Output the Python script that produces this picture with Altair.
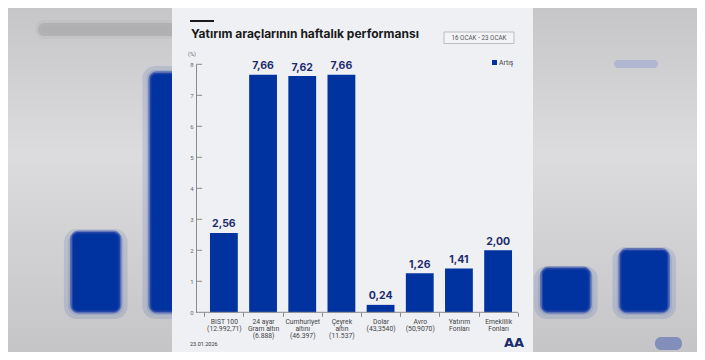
import altair as alt
import pandas as pd

categories = ["BIST 100|(12.992,71)", "24 ayar|Gram altın|(6.888)", "Cumhuriyet|altını|(46.397)",
              "Çeyrek|altın|(11.537)", "Dolar|(43,3540)", "Avro|(50,9070)",
              "Yatırım|Fonları", "Emeklilik|Fonları"]
values = [2.56, 7.66, 7.62, 7.66, 0.24, 1.26, 1.41, 2.00]
value_labels = ["2,56", "7,66", "7,62", "7,66", "0,24", "1,26", "1,41", "2,00"]
y_ticks = [1, 2, 3, 4, 5, 6, 7, 8]

title_text = "Yatırım araçlarının haftalık performansı"
date_text = "16 OCAK - 23 OCAK"
unit_text = "(%)"
legend_text = "Artış"
footer_text = "23.01.2026"

BLUE = "#0033a0"
NAVY = "#1c2c6c"

df = pd.DataFrame({"cat": categories, "val": values, "lab": value_labels})
ticks_df = pd.DataFrame({"v": y_ticks})
one = pd.DataFrame({"a": [0]})

W, H = 689, 344


def txt(text, x, y, **kw):
    return alt.Chart(pd.DataFrame({"t": [text]})).mark_text(**kw).encode(
        x=alt.value(x), y=alt.value(y), text="t:N")


def blob(x1, x2, y1, y2, **kw):
    return alt.Chart(one).mark_rect(**kw).encode(
        x=alt.value(x1), x2=alt.value(x2), y=alt.value(y1), y2=alt.value(y2))


# ---- gradient grey backdrop ----
backdrop = alt.Chart(one).mark_rect(
    color=alt.Gradient(gradient="linear", x1=0, x2=0, y1=0, y2=1,
                       stops=[alt.GradientStop(offset=0, color="#c6c6c8"),
                              alt.GradientStop(offset=0.42, color="#dcdcde"),
                              alt.GradientStop(offset=0.75, color="#cfcfd1"),
                              alt.GradientStop(offset=1, color="#c5c5c7")])
).encode(x=alt.value(0), x2=alt.value(W), y=alt.value(0), y2=alt.value(H))

# ---- blurred, enlarged background copy ----
bg_x = alt.X("cat:N", sort=None, axis=None,
             scale=alt.Scale(range=[48.6, 675.4], paddingInner=0, paddingOuter=0))
bg_y = alt.Y("val:Q", axis=None, scale=alt.Scale(domain=[0, 8], range=[307, 51]))
bg_halo = alt.Chart(df).mark_bar(
    width=alt.RelativeBandSize(0.71), color="#5068b4", opacity=0.18, cornerRadius=9,
    stroke="#5068b4", strokeWidth=8, strokeOpacity=0.18
).encode(x=bg_x, y=bg_y)
bg_bars = alt.Chart(df).mark_bar(
    width=alt.RelativeBandSize(0.62), color=BLUE, cornerRadius=7,
    stroke="#2a48a8", strokeWidth=3, strokeOpacity=0.6
).encode(x=bg_x, y=alt.Y("val:Q", axis=None, scale=alt.Scale(domain=[0, 8], range=[304, 54])))

bg_title = blob(30, 170, 15, 28, color="#9c9c9e", opacity=0.55, cornerRadius=6,
                stroke="#a8a8aa", strokeWidth=6, strokeOpacity=0.3)
bg_legend = blob(606, 650, 52, 60, color="#8c9ad0", opacity=0.45, cornerRadius=4)
bg_logo = blob(647, 674, 329, 342, color="#4a62b0", opacity=0.55, cornerRadius=6)

# ---- panel ----
panel = alt.Chart(one).mark_rect(color="#eff0f4").encode(
    x=alt.value(164), x2=alt.value(525), y=alt.value(0), y2=alt.value(H))

# ---- main chart ----
x_scale = alt.Scale(range=[196.3, 509.7], paddingInner=0, paddingOuter=0)
y_scale = alt.Scale(domain=[0, 8], range=[304.3, 56.3], nice=False)

x_enc = alt.X("cat:N", sort=None, scale=x_scale, title=None,
              axis=alt.Axis(orient="bottom", offset=-39.7, domain=False, ticks=True,
                            tickBand="extent", tickSize=4, tickColor="#8a8a8a", tickWidth=1,
                            labelExpr="split(datum.label, '|')", labelAngle=0,
                            labelFontSize=6.8, labelLineHeight=7, labelColor="#444444",
                            labelFont="Roboto", labelPadding=2, labelBaseline="top",
                            zindex=2))
y_enc = alt.Y("val:Q", scale=y_scale, title=None,
              axis=alt.Axis(orient="left", offset=-188, values=list(range(0, 9)),
                            ticks=False, grid=False, domainColor="#8a8a8a", domainWidth=1,
                            labelFontSize=6, labelColor="#666666", labelFont="Roboto",
                            labelPadding=3, zindex=2))

bars = alt.Chart(df).mark_bar(width=alt.RelativeBandSize(0.71), color=BLUE).encode(
    x=x_enc, y=y_enc)
bar_labels = alt.Chart(df).mark_text(
    baseline="bottom", dy=-3.5, fontSize=10.5, fontWeight="bold", font="Inter", color=NAVY
).encode(x=alt.X("cat:N", sort=None, scale=x_scale), y=alt.Y("val:Q", scale=y_scale), text="lab:N")

y_tick_rules = alt.Chart(ticks_df).mark_rule(color="#8a8a8a", strokeWidth=1).encode(
    x=alt.value(188), x2=alt.value(194), y=alt.Y("v:Q", scale=y_scale))
baseline = alt.Chart(one).mark_rule(color="#8a8a8a", strokeWidth=1).encode(
    x=alt.value(188), x2=alt.value(510), y=alt.datum(0, scale=y_scale))

main = alt.layer(bars, bar_labels, y_tick_rules, baseline)

# ---- texts & decorations ----
title_line = alt.Chart(one).mark_rule(color="#1a1a1a", strokeWidth=2).encode(
    x=alt.value(182), x2=alt.value(206), y=alt.value(13))
title = txt(title_text, 183, 26, align="left", baseline="middle", fontSize=12,
            fontWeight="bold", font="Inter", color="#1a1a1a")
date_box = alt.Chart(one).mark_rect(fill="#f3f4f7", stroke="#bdbdbd", strokeWidth=1).encode(
    x=alt.value(436), x2=alt.value(506), y=alt.value(24), y2=alt.value(35.5))
date_lbl = txt(date_text, 471, 30, align="center", baseline="middle", fontSize=6.3,
               font="Roboto", color="#555555")
unit_lbl = txt(unit_text, 180, 46, align="left", baseline="middle", fontSize=5.5,
               font="Roboto", color="#666666")
legend_sq = alt.Chart(one).mark_rect(color=BLUE).encode(
    x=alt.value(484), x2=alt.value(489), y=alt.value(52), y2=alt.value(57))
legend_lbl = txt(legend_text, 491, 54.5, align="left", baseline="middle", fontSize=6.8,
                 font="Roboto", color="#444444")
footer = txt(footer_text, 182, 336, align="left", baseline="middle", fontSize=5.5,
             font="Roboto", color="#333333")
logo = txt("AA", 506, 335, align="center", baseline="middle", fontSize=13,
           fontWeight="bold", font="DejaVu Sans", color=NAVY)

deco = alt.layer(title_line, title, date_box, date_lbl, unit_lbl, legend_sq, legend_lbl,
                 footer, logo)

chart = alt.layer(backdrop, bg_title, bg_legend, bg_logo, bg_halo, bg_bars,
                  panel, main, deco).resolve_scale(
    x="independent", y="independent"
).properties(
    width=W, height=H, background="#cbcbcd", padding=0,
    autosize=alt.AutoSizeParams(type="none")
).configure_view(strokeWidth=0)

chart.save("out.html", embed_options={"renderer": "svg", "actions": False})
